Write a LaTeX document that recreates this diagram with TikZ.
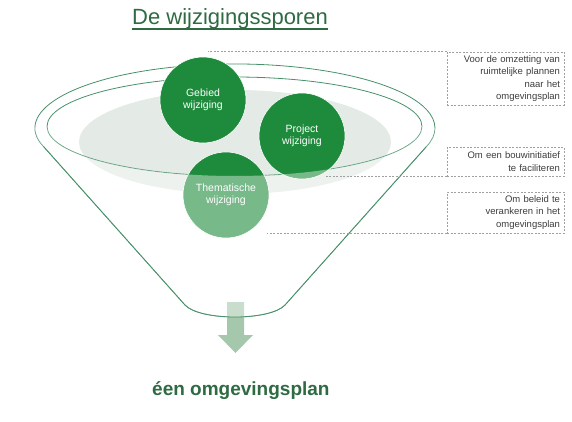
\documentclass[tikz,border=0pt]{standalone}
\usepackage{fontspec}
\setmainfont{Liberation Sans}
\usetikzlibrary{positioning}
\definecolor{fgreen}{RGB}{30,139,60}
\definecolor{fline}{RGB}{70,145,105}
\definecolor{fgray}{RGB}{228,234,229}
\definecolor{farrow}{RGB}{165,199,171}
\definecolor{ftitle}{RGB}{46,107,66}
\definecolor{fnote}{RGB}{60,60,60}
\definecolor{fdash}{RGB}{160,160,160}

\begin{document}
\begin{tikzpicture}[x=1pt,y=1pt,
  spoor/.style={circle,fill=fgreen,draw=white,line width=0.6pt,minimum size=86pt,
                inner sep=0pt,align=center,text=white,font=\fontsize{10.5}{12}\selectfont},
  notedash/.style={draw=fdash,line width=0.6pt,dash pattern=on 2pt off 1.5pt},
  notebox/.style={notedash,rectangle,align=right,text=fnote,text width=109pt,
                  inner xsep=4pt,inner ysep=2pt,font=\fontsize{9.5}{12.3}\selectfont},
  rim/.style={draw=fline,line width=0.8pt},
  kop/.style={anchor=base west,inner sep=0pt,text=ftitle},
  ]
  \useasboundingbox (0,0) rectangle (572,421);
  % funnel
  \fill[fgray] (235,279) ellipse [x radius=156, y radius=52];
  \draw[rim] (43.7,274.3) arc[start angle=197,end angle=-17,x radius=200,y radius=64]
    -- (285,116) .. controls (270,100) and (200,100) .. (185,116) -- cycle;
  \draw[rim] (234.5,294.5) ellipse [x radius=187.5, y radius=49.5];
  \fill[farrow] (227,119) -- (244,119) -- (244,86) -- (253,86) -- (235.5,68)
    -- (218,86) -- (227,86) -- cycle;
  % the three tracks
  \node[spoor] (gebied)  at (203,321) {Gebied\\wijziging};
  \node[spoor] (project) at (302,285) {Project\\wijziging};
  \node[spoor] (thema)   at (226,226) {Thematische\\wijziging};
  % front of the funnel
  \fill[white,fill opacity=0.4] (47,294.5)
    arc[start angle=180,end angle=360,x radius=187.5,y radius=49.5] -- (435,293)
    arc[start angle=0,end angle=-17,x radius=200,y radius=64]
    -- (285,116) .. controls (270,100) and (200,100) .. (185,116) -- (43.7,274.3)
    arc[start angle=197,end angle=180,x radius=200,y radius=64] -- cycle;
  \draw[rim] (426.3,274.3) -- (285,116) .. controls (270,100) and (200,100) .. (185,116)
    -- (43.7,274.3);
  % notes
  \node[notebox,minimum height=53pt] (omzet)  at (505.5,342.5)
    {Voor de omzetting van\\ruimtelijke plannen\\naar het\\omgevingsplan};
  \node[notebox,minimum height=29pt] (bouw)   at (505.5,259.5)
    {Om een bouwinitiatief\\te faciliteren};
  \node[notebox,minimum height=41pt] (beleid) at (505.5,208.5)
    {Om beleid te\\verankeren in het\\omgevingsplan};
  \coordinate[left=239pt of omzet.north west] (omzet-end);
  \coordinate[left=122pt of bouw.south west]  (bouw-end);
  \coordinate[left=180pt of beleid.south west] (beleid-end);
  \draw[notedash] (omzet.north west) -- (omzet-end);
  \draw[notedash] (bouw.south west) -- (bouw-end);
  \draw[notedash] (beleid.south west) -- (beleid-end);
  % titles
  \node[kop,font=\fontsize{22}{26}\selectfont] (titel) at (132,396) {De wijzigingssporen};
  \draw[ftitle,line width=1.1pt] ([yshift=-4pt]titel.base west) -- ([yshift=-4pt]titel.base east);
  \node[kop,font=\fontsize{19}{22}\selectfont\bfseries] (plan) at (152,26) {éen omgevingsplan};
\end{tikzpicture}
\end{document}
